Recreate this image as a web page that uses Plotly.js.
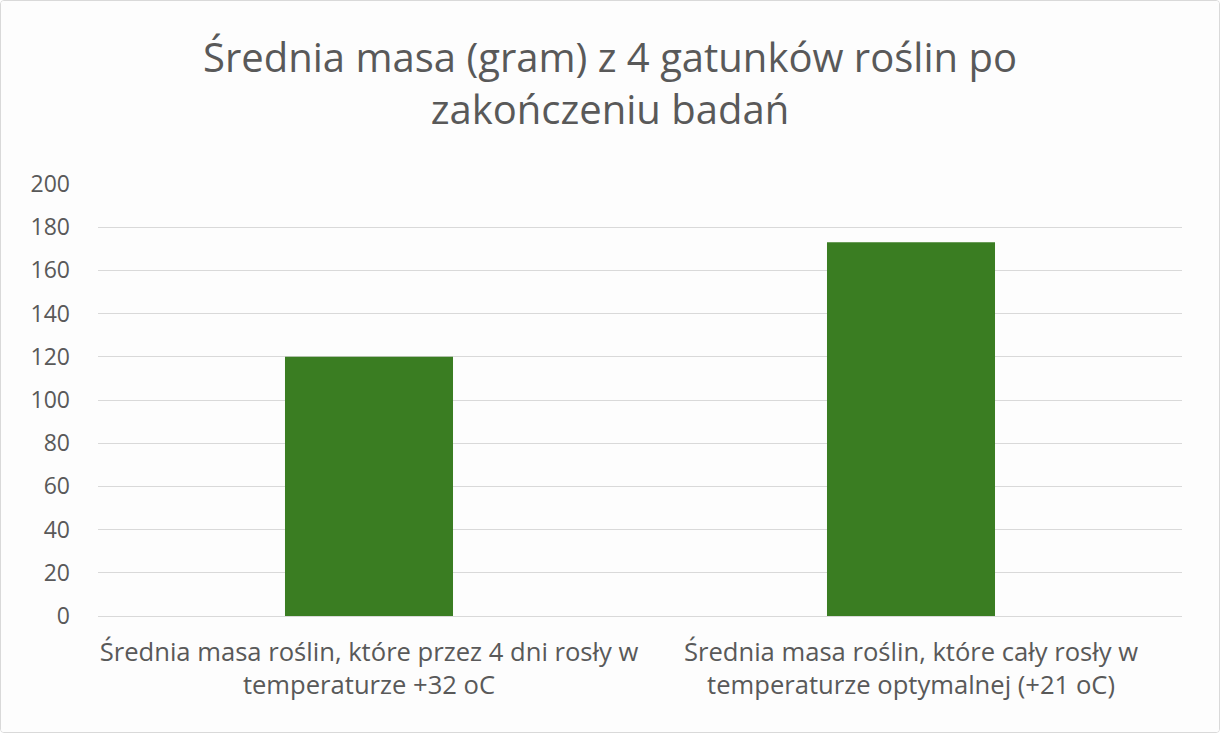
<!DOCTYPE html>
<html>
<head>
<meta charset="utf-8">
<script src="https://cdn.plot.ly/plotly-3.0.1.min.js"></script>
<style>
    html, body { margin: 0; padding: 0; background: #ffffff; }
    #chart {
        width: 1220px;
        height: 733px;
        box-sizing: border-box;
        border: 1px solid #d9d9d9;
        border-radius: 4px;
        overflow: hidden;
        background: #fdfdfd;
    }
</style>
</head>
<body>
<div id="chart"></div>
<script>
const categories = [
    "Średnia masa roślin, które przez 4 dni rosły w<br>temperaturze +32 oC",
    "Średnia masa roślin, które cały rosły w<br>temperaturze optymalnej (+21 oC)",
];
const meanMass = [120, 173];
const yTicks = [0, 20, 40, 60, 80, 100, 120, 140, 160, 180, 200];

const textColor = "#595959";
const fontFamily = "\"Open Sans\", \"Noto Sans\", Arial, sans-serif";

Plotly.newPlot(
    "chart",
    [
        {
            type: "bar",
            x: categories,
            y: meanMass,
            marker: { color: "#3a7d22" },
            width: 0.31,
            hoverinfo: "y",
        },
    ],
    {
        width: 1218,
        height: 731,
        margin: { t: 183, r: 37, b: 116, l: 97 },
        paper_bgcolor: "#fdfdfd",
        plot_bgcolor: "#fdfdfd",
        font: { family: fontFamily, color: textColor, size: 20 },
        title: {
            text: "Średnia masa (gram) z 4 gatunków roślin po<br>zakończeniu badań",
            font: { size: 40, color: textColor, family: fontFamily },
            x: 0.5,
            xanchor: "center",
            y: 0.903,
            yanchor: "top",
        },
        xaxis: {
            tickfont: { size: 25.6, color: textColor },
            showline: false,
            ticks: "",
            showgrid: false,
            ticklabelstandoff: 18,
        },
        yaxis: {
            range: [0, 200],
            tickvals: yTicks,
            ticktext: yTicks.map(String),
            tickfont: { size: 23, color: textColor },
            gridcolor: "#d9d9d9",
            gridwidth: 1,
            zeroline: true,
            zerolinecolor: "#d9d9d9",
            zerolinewidth: 1,
            ticks: "",
            ticklabelstandoff: 27,
            fixedrange: true,
        },
        bargap: 0.69,
        showlegend: false,
    },
    { displayModeBar: false, staticPlot: true },
);
</script>
</body>
</html>
